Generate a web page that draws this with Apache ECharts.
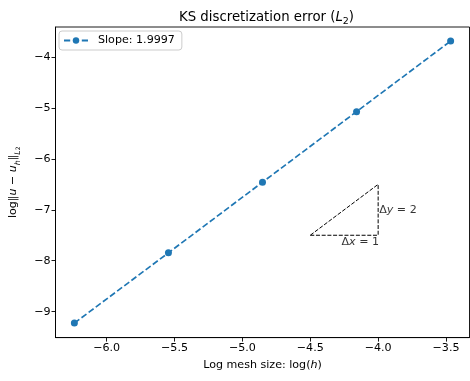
<!DOCTYPE html>
<html><head><meta charset="utf-8">
<script src="https://cdn.jsdelivr.net/npm/echarts@6/dist/echarts.min.js"></script>
<style>html,body{margin:0;padding:0;background:#fff}#c{width:470px;height:381px}</style>
</head><body><div id="c"></div>
<script>
const logH = [-6.238, -5.545, -4.852, -4.159, -3.466];
const logErr = [-9.225, -7.845, -6.458, -5.072, -3.686];
const xTicks = [-6.0, -5.5, -5.0, -4.5, -4.0, -3.5];
const yTicks = [-9, -8, -7, -6, -5, -4];
const triangle = [[-4.5, -7.5], [-4.0, -7.5], [-4.0, -6.5], [-4.5, -7.5]];
const seriesName = 'Slope: 1.9997';

const F = 'DejaVu Sans';
const minus = s => s.replace('-', '\u2212');
const chart = echarts.init(document.getElementById('c'), null, {renderer: 'canvas'});
chart.setOption({
  animation: false,
  backgroundColor: '#fff',
  title: {
    text: '{n|KS discretization error (}{i|L}{s|2}{n|)}',
    left: 261.5, top: 4, textAlign: 'center',
    textStyle: {
      fontWeight: 'normal',
      rich: {
        n: {fontFamily: F, fontSize: 13.3, fontWeight: 'normal', color: '#000', lineHeight: 18},
        i: {fontFamily: F, fontSize: 13.3, fontWeight: 'normal', fontStyle: 'italic', color: '#000', lineHeight: 18},
        s: {fontFamily: F, fontSize: 9.5, fontWeight: 'normal', color: '#000', verticalAlign: 'bottom', lineHeight: 14}
      }
    }
  },
  legend: {
    left: 59, top: 31,
    orient: 'vertical',
    itemWidth: 24, itemHeight: 8,
    padding: [4, 7, 4, 4],
    borderColor: '#ccc', borderWidth: 1, borderRadius: 3,
    backgroundColor: 'rgba(255,255,255,0.8)',
    data: [seriesName],
    textStyle: {fontFamily: F, fontSize: 11.1, color: '#000', padding: [0, 0, 0, 5]}
  },
  grid: {left: 53, right: 0.5, top: 27, bottom: 43.4, show: true, borderColor: '#000', borderWidth: 0.9, containLabel: false},
  xAxis: {
    type: 'value', min: -6.377, max: -3.327,
    name: 'Log mesh size: {i|log(}{ii|h}{i|)}',
    nameLocation: 'middle', nameGap: 22,
    nameTextStyle: {fontFamily: F, fontSize: 11.1, color: '#000',
      rich: {i: {fontFamily: F, fontSize: 11.1, color: '#000'}, ii: {fontFamily: F, fontSize: 11.1, fontStyle: 'italic', color: '#000'}}},
    axisLine: {show: true, onZero: false, lineStyle: {color: '#000', width: 0.9}},
    axisTick: {show: true, length: 4, customValues: xTicks, lineStyle: {color: '#000', width: 0.9}},
    axisLabel: {customValues: xTicks, fontFamily: F, fontSize: 11.1, color: '#000', margin: 5,
      formatter: v => minus(Number(v).toFixed(1))},
    splitLine: {show: false}
  },
  yAxis: {
    type: 'value', min: -9.51, max: -3.41,
    name: '{n|log‖}{i|u}{n| − }{i|u}{s|h}{n|‖}{s|L}{ss|2}',
    nameLocation: 'middle', nameGap: 34, nameRotate: 90,
    nameTextStyle: {
      rich: {
        n: {fontFamily: F, fontSize: 11.1, color: '#000', lineHeight: 16},
        i: {fontFamily: F, fontSize: 11.1, fontStyle: 'italic', color: '#000', lineHeight: 16},
        s: {fontFamily: F, fontSize: 7.8, fontStyle: 'italic', color: '#000', verticalAlign: 'bottom', lineHeight: 12},
        ss: {fontFamily: F, fontSize: 6, color: '#000', verticalAlign: 'bottom', lineHeight: 10}
      }
    },
    axisLine: {show: true, onZero: false, lineStyle: {color: '#000', width: 0.9}},
    axisTick: {show: true, length: 4, customValues: yTicks, lineStyle: {color: '#000', width: 0.9}},
    axisLabel: {customValues: yTicks, fontFamily: F, fontSize: 11.1, color: '#000', margin: 5,
      formatter: v => minus(String(Math.round(v)))},
    splitLine: {show: false}
  },
  series: [
    {
      name: seriesName, type: 'line',
      data: logH.map((x, i) => [x, logErr[i]]),
      symbol: 'circle', symbolSize: 7, showAllSymbol: true,
      lineStyle: {color: '#1f77b4', width: 1.67, type: [6.2, 2.7]},
      itemStyle: {color: '#1f77b4'},
      z: 3
    },
    {
      name: 'triangle', type: 'line',
      data: triangle, symbol: 'none',
      lineStyle: {color: '#000', width: 1, type: [4, 1.7]},
      silent: true, z: 2
    },
    {
      name: 'labels', type: 'scatter', symbolSize: 0, silent: true,
      data: [
        {value: [-4.27, -7.5], label: {show: true, position: 'inside', offset: [0, 1], align: 'left', verticalAlign: 'top',
          formatter: '{n|Δ}{i|x}{n| = 1}'}},
        {value: [-4.0, -7.0], label: {show: true, position: 'inside', align: 'left', verticalAlign: 'middle', offset: [1, 0],
          formatter: '{n|Δ}{i|y}{n| = 2}'}}
      ],
      label: {
        rich: {
          n: {fontFamily: F, fontSize: 11.1, color: '#000'},
          i: {fontFamily: F, fontSize: 11.1, fontStyle: 'italic', color: '#000'}
        }
      }
    }
  ]
});
</script></body></html>
